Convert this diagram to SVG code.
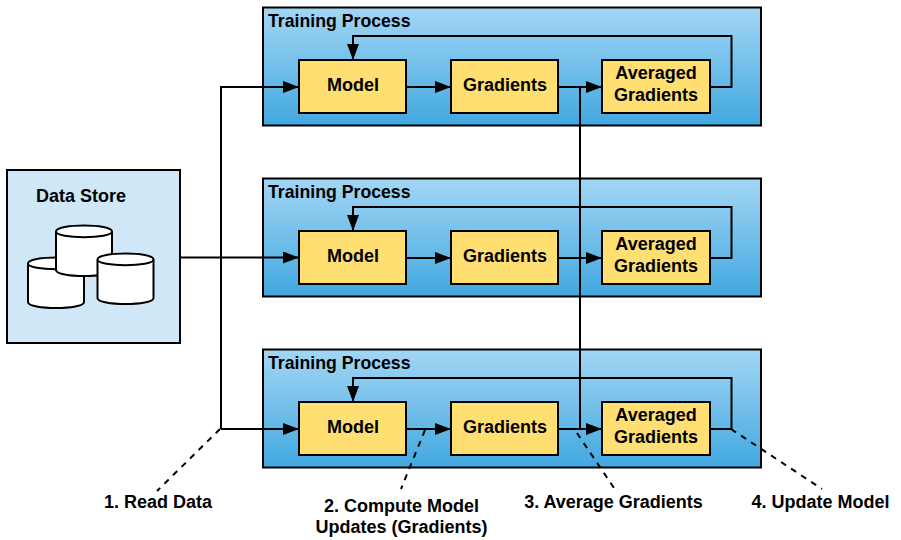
<svg xmlns="http://www.w3.org/2000/svg" width="901" height="540" viewBox="0 0 901 540">
<style>
text{font-family:"Liberation Sans",Arial,sans-serif;font-weight:700;fill:#000;font-size:18px}
.t{font-size:17.7px}
.c{text-anchor:middle}
.proc{fill:url(#g);stroke:#000;stroke-width:2}
.box{fill:#ffdf71;stroke:#000;stroke-width:2}
.cyl{fill:#fff;stroke:#000;stroke-width:2}
.ln{fill:none;stroke:#000;stroke-width:2}
.ar{marker-end:url(#a)}
.da{fill:none;stroke:#000;stroke-width:2;stroke-dasharray:6 6}
</style>
<defs>
<linearGradient id="g" x1="0" y1="0" x2="0" y2="1"><stop offset="0" stop-color="#a3d6f4"/><stop offset="1" stop-color="#41a8e0"/></linearGradient>
<marker id="a" markerUnits="userSpaceOnUse" markerWidth="16" markerHeight="12" refX="16" refY="6" orient="auto"><path d="M0 0L16 6L0 12Z" fill="#000"/></marker>
<g id="cy"><path d="M0 6.500C0 -1.500 56 -1.500 56 6.500V45C56 53 0 53 0 45Z"/><path fill="none" d="M0 6.500C0 14 56 14 56 6.500"/></g>
</defs>
<g id="data-store">
<rect x="7" y="170" width="173" height="173" fill="#d0e7f8" stroke="#000" stroke-width="2"/>
<text class="c" x="81" y="201.500">Data Store</text>
<use href="#cy" class="cyl" x="28" y="257"/>
<use href="#cy" class="cyl" x="56" y="225"/>
<use href="#cy" class="cyl" x="97.500" y="253"/>
</g>
<g id="process-1"><rect class="proc" x="263" y="7.500" width="498" height="118"/><text class="t" x="268" y="26.500">Training Process</text></g>
<g id="process-2"><rect class="proc" x="263" y="178.500" width="498" height="118"/><text class="t" x="268" y="197.500">Training Process</text></g>
<g id="process-3"><rect class="proc" x="263" y="349.500" width="498" height="118"/><text class="t" x="268" y="368.500">Training Process</text></g>
<g id="connectors">
<path class="ln ar" d="M221 429V87H299"/>
<path class="ln ar" d="M181 257.500H299"/>
<path class="ln ar" d="M221 429H299"/>
<path class="ln ar" d="M407 87H451"/><path class="ln ar" d="M407 258H451"/><path class="ln ar" d="M407 429H451"/>
<path class="ln ar" d="M558 87H602"/><path class="ln ar" d="M558 258H602"/><path class="ln ar" d="M558 429H602"/>
<path class="ln" d="M580 87V429"/>
<path class="ln ar" d="M710 87H731.500V36H353V60"/>
<path class="ln ar" d="M710 258H731.500V207H353V231"/>
<path class="ln ar" d="M710 429H731.500V378H353V402"/>
<path class="da" d="M220 429L157 491"/>
<path class="da" d="M425 430L401 489"/>
<path class="da" d="M577 433L614 488"/>
<path class="da" d="M731 429L822 489"/>
</g>
<g id="model-1"><rect class="box" x="299" y="60" width="107" height="53"/><text class="c" x="353" y="90.500">Model</text></g>
<g id="gradients-1"><rect class="box" x="451" y="60" width="107" height="53"/><text class="c" x="505" y="90.500">Gradients</text></g>
<g id="averaged-1"><rect class="box" x="602" y="60" width="108" height="53"/><text class="c" x="656" y="79">Averaged</text><text class="c" x="656" y="101">Gradients</text></g>
<g id="model-2"><rect class="box" x="299" y="231" width="107" height="53"/><text class="c" x="353" y="261.500">Model</text></g>
<g id="gradients-2"><rect class="box" x="451" y="231" width="107" height="53"/><text class="c" x="505" y="261.500">Gradients</text></g>
<g id="averaged-2"><rect class="box" x="602" y="231" width="108" height="53"/><text class="c" x="656" y="250">Averaged</text><text class="c" x="656" y="272">Gradients</text></g>
<g id="model-3"><rect class="box" x="299" y="402" width="107" height="53"/><text class="c" x="353" y="432.500">Model</text></g>
<g id="gradients-3"><rect class="box" x="451" y="402" width="107" height="53"/><text class="c" x="505" y="432.500">Gradients</text></g>
<g id="averaged-3"><rect class="box" x="602" y="402" width="108" height="53"/><text class="c" x="656" y="421">Averaged</text><text class="c" x="656" y="443">Gradients</text></g>
<g id="label-1"><text class="c" x="158" y="507.500">1. Read Data</text></g>
<g id="label-2"><text class="c" x="401.500" y="511.500">2. Compute Model</text><text class="c" x="401.500" y="533">Updates (Gradients)</text></g>
<g id="label-3"><text class="c" x="613.500" y="507.500">3. Average Gradients</text></g>
<g id="label-4"><text class="c" x="820.500" y="507.500">4. Update Model</text></g>
</svg>
